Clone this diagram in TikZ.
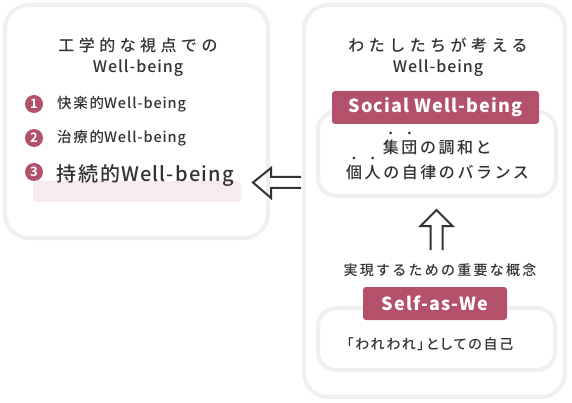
\documentclass[tikz,border=0pt]{standalone}
\usepackage{fontspec}
\setmainfont{Noto Sans CJK JP}[UprightFont=* Medium,BoldFont=* Bold]
\newfontfamily\jpwide{Noto Sans CJK JP}[UprightFont=* Medium,LetterSpace=28]
\newfontfamily\jpbody{Noto Sans CJK JP}[UprightFont=* Medium,LetterSpace=16]
\newfontfamily\jpmid{Noto Sans CJK JP}[UprightFont=* Medium,LetterSpace=12]
\newfontfamily\jpprop{Noto Sans CJK JP}[UprightFont=* Medium,RawFeature=+palt,LetterSpace=13]
\newfontfamily\enwide{Noto Sans CJK JP}[UprightFont=* Medium,LetterSpace=6]
\usetikzlibrary{positioning,shapes}

\definecolor{wine}{HTML}{B4516A}
\definecolor{paleline}{HTML}{F0F0F0}
\definecolor{pinkbg}{HTML}{F8EBEF}
\definecolor{ink}{HTML}{333333}

\begin{document}
\begin{tikzpicture}[x=1pt,y=-1pt,
  panel/.style={draw=paleline,line width=4pt,rounded corners=24pt,fill=white},
  innerbox/.style={draw=paleline,line width=4pt,rounded corners=18pt},
  tag/.style={fill=wine,text=white,rounded corners=3pt,inner sep=0pt,
    font=\bfseries\fontsize{18}{20}\selectfont},
  num/.style={circle,fill=wine,text=white,minimum size=18pt,inner sep=0pt,
    font=\bfseries\fontsize{13}{13}\selectfont},
  title/.style={text=ink,align=center,font=\fontsize{16}{21}\selectfont},
  item/.style={text=ink,anchor=west,inner sep=0pt,font=\fontsize{14.5}{16}\selectfont},
  body/.style={text=ink,inner sep=0pt,font=\fontsize{16}{18}\selectfont\jpbody},
  hollow/.style={draw=ink,line width=2pt,miter limit=10}]
  \useasboundingbox (0,0) rectangle (572,403);

  % left side
  \node[panel,minimum width=263pt,minimum height=233pt] (left) at (136.5,121.5) {};
  \node[title] (ltitle) at (138,57) {{\jpwide 工学的な視点での}\\{\enwide Well-being}};
  \node[fill=pinkbg,rounded corners=4pt,minimum width=208pt,minimum height=21pt] (mark) at (137,191.5) {};
  \node[num] (n1) at (34,104) {1};
  \node[num] (n2) at (34,138) {2};
  \node[num] (n3) at (34,172) {3};
  \node[item] (w1) at (57,104) {{\jpmid 快楽的}{\enwide Well-being}};
  \node[item] (w2) at (57,138) {{\jpmid 治療的}{\enwide Well-being}};
  \node[item,font=\fontsize{20}{22}\selectfont] (w3) at (56,176) {{\jpmid 持続的}{\enwide Well-being}};

  % right side
  \node[panel,minimum width=261pt,minimum height=392pt] (right) at (434.5,201) {};
  \node[title] (rtitle) at (438,57) {{\jpwide わたしたちが考える}\\{\enwide Well-being}};
  \node[innerbox,minimum width=238pt,minimum height=84pt] (social) at (437,154) {};
  \node[tag,minimum width=207pt,minimum height=33pt] (socialtag) at (435.5,107.5) {{\enwide Social Well-being}};
  \node[body] (bal1) at (437.3,147) {集団の調和と};
  \node[body] (bal2) at (437.5,172) {個人の自律のバランス};
  \foreach \ln/\dx in {bal1/8,bal1/26.6,bal2/8,bal2/26.6}
    \fill[ink] (\ln.west) ++(\dx,-14) circle (1.5pt);
  \node[body,font=\fontsize{14}{15}\selectfont\jpbody] (concept) at (440,270) {実現するための重要な概念};
  \node[innerbox,minimum width=237pt,minimum height=62pt] (self) at (436.5,339) {};
  \node[tag,minimum width=144pt,minimum height=33pt] (selftag) at (435,303.5) {{\enwide Self-as-We}};
  \node[text=ink,font=\fontsize{14}{15}\selectfont] (wareware) at (430,344) {{\jpprop 「われわれ」としての自己}};

  % hollow arrows
  \coordinate (ltip) at (253,182.5);
  \coordinate (utip) at (436.5,210);
  \draw[hollow] (ltip) ++(48,-5.5) -- ++(-30,0) -- ++(0,-9) -- (ltip) -- ++(18,15.5) -- ++(0,-10) -- ++(30,0);
  \draw[hollow] (utip) ++(-6,40) -- ++(0,-24) -- ++(-10,0) -- (utip) -- ++(16,16) -- ++(-10,0) -- ++(0,24);
\end{tikzpicture}
\end{document}
